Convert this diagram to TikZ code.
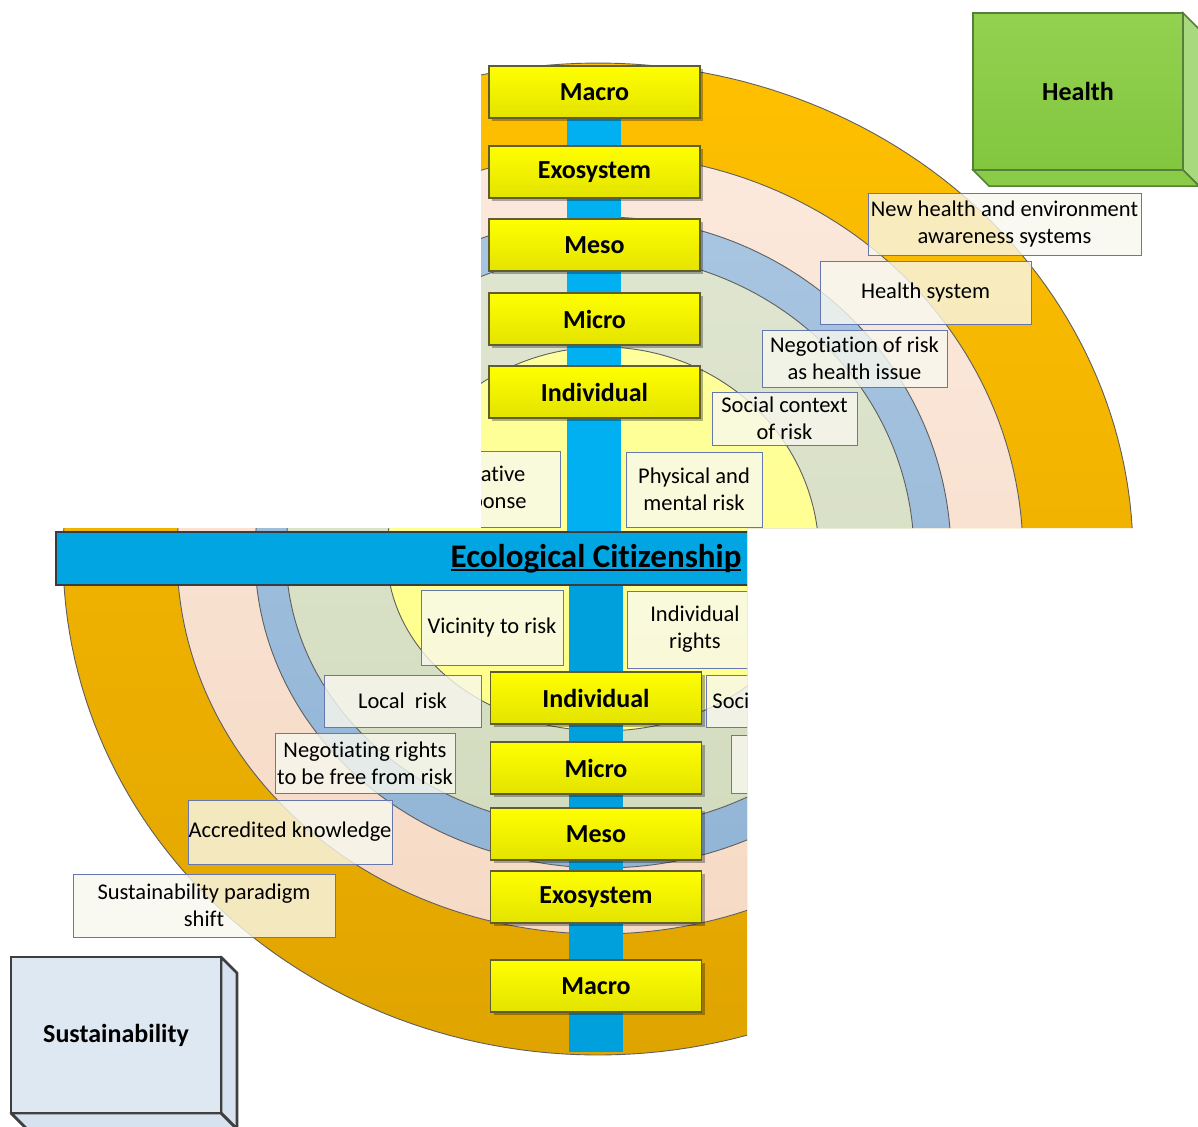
\documentclass[tikz,border=0pt]{standalone}
\usepackage{fontspec}
\setmainfont{Carlito}[Ligatures=NoCommon]
\usetikzlibrary{shadows}

% ring colours (top / bottom of each gradient)
\definecolor{ringOtop}{HTML}{FFC000}
\definecolor{ringObot}{HTML}{E0A400}
\definecolor{ringPtop}{HTML}{FBE9DD}
\definecolor{ringPbot}{HTML}{F6DAC5}
\definecolor{ringBtop}{HTML}{A8C5E1}
\definecolor{ringBbot}{HTML}{92B5D6}
\definecolor{ringGtop}{HTML}{DFE5CF}
\definecolor{ringGbot}{HTML}{D3DCBF}
\definecolor{ringYtop}{HTML}{FFFF9C}
\definecolor{ringYbot}{HTML}{FFFF8A}
\definecolor{ringline}{HTML}{5F5F5F}
% spine and cross bar
\definecolor{spineup}{HTML}{00B0F0}
\definecolor{spinedown}{HTML}{00A0DC}
\definecolor{barfill}{HTML}{00A5E1}
\definecolor{baredge}{HTML}{3C3C3C}
% layer boxes
\definecolor{lyrtop}{HTML}{FFFF00}
\definecolor{lyrbot}{HTML}{E3E300}
\definecolor{lyredge}{HTML}{5E5E30}
% note boxes
\definecolor{ntfill}{HTML}{F8F8EE}
\definecolor{ntedge}{HTML}{6577AE}
% side blocks
\definecolor{hfront}{HTML}{93D151}
\definecolor{hfrontbot}{HTML}{82C63E}
\definecolor{hside}{HTML}{A9D97F}
\definecolor{hbottom}{HTML}{8ACB48}
\definecolor{hedge}{HTML}{55803A}
\definecolor{sfront}{HTML}{DEE8F3}
\definecolor{sside}{HTML}{D6E2EF}
\definecolor{sedge}{HTML}{3F3F3F}

\newcommand\lyrfont{\bfseries\fontsize{13}{15.6}\selectfont}
\newcommand\ntfont{\fontsize{11.25}{13.5}\selectfont}
\newcommand\ulinetext[1]{\setbox0\hbox{#1}\rlap{\rule[-2pt]{\wd0}{1pt}}\box0}

\begin{document}
\begin{tikzpicture}[x=0.5pt,y=-0.5pt,
  lyr/.style={rectangle, draw=lyredge, line width=0.7pt, top color=lyrtop,
    bottom color=lyrbot, minimum width=105.5pt, minimum height=26pt,
    inner sep=0pt, font=\lyrfont,
    drop shadow={shadow xshift=1.6pt, shadow yshift=-1.6pt, opacity=0.3, fill=black}},
  nt/.style={rectangle, draw=ntedge, line width=0.5pt, fill=ntfill,
    fill opacity=0.8, text opacity=1, inner sep=0pt, align=center, font=\ntfont},
  spineU/.style={draw=spineup, line width=27pt},
  spineD/.style={draw=spinedown, line width=27pt},
  ecobar/.style={rectangle, fill=barfill, draw=baredge, line width=0.8pt,
    minimum width=540pt, minimum height=26.5pt, inner sep=0pt,
    font=\bfseries\fontsize{16.5}{19}\selectfont},
  blockface/.style={rectangle, inner sep=0pt, font=\lyrfont,
    minimum width=105pt, minimum height=78.5pt}
]
\useasboundingbox (0,0) rectangle (1198,1126);

\begin{scope}
  % visible area of the ring diagram
  \clip (481,0) -- (1198,0) -- (1198,528) -- (747,528) -- (747,1126)
        -- (0,1126) -- (0,528) -- (481,528) -- cycle;

  % concentric rings: centre x / x radius / upper y radius / lower y radius
  \foreach \cx/\rx/\ryu/\ryl/\ct/\cb in {
      598/535/492/500/ringOtop/ringObot,
      600/423/401/379/ringPtop/ringPbot,
      603/348/338/313/ringBtop/ringBbot,
      600/314/301/274/ringGtop/ringGbot,
      603/216/208/176/ringYtop/ringYbot}{
    \shade[top color=\ct, bottom color=\cb, draw=ringline, line width=0.45pt]
      plot[domain=0:180, samples=120, variable=\t]
        ({\cx+\rx*cos(\t)},{555+\ryl*sin(\t)})
      -- plot[domain=180:360, samples=120, variable=\t]
        ({\cx+\rx*cos(\t)},{555+\ryu*sin(\t)}) -- cycle;
  }

  % spine ends
  \coordinate (spinetop) at (594,80);
  \coordinate (spinemid) at (594,558);
  \coordinate (spinemid2) at (596,558);
  \coordinate (spineend) at (596,1052);
  \draw[spineU] (spinetop) -- (spinemid);
  \draw[spineD] (spinemid2) -- (spineend);

  % cross bar
  \node[ecobar] (eco) at (596,558.5) {\ulinetext{Ecological Citizenship}};

  % layer boxes, upper half
  \node[lyr] (mac1) at (594.5,92)  {Macro};
  \node[lyr] (exo1) at (594.5,172) {Exosystem};
  \node[lyr] (mes1) at (594.5,245) {Meso};
  \node[lyr] (mic1) at (594.5,319) {Micro};
  \node[lyr] (ind1) at (594.5,392) {Individual};
  % layer boxes, lower half
  \node[lyr] (ind2) at (596,698) {Individual};
  \node[lyr] (mic2) at (596,768) {Micro};
  \node[lyr] (mes2) at (596,834) {Meso};
  \node[lyr] (exo2) at (596,897) {Exosystem};
  \node[lyr] (mac2) at (596,986) {Macro};

  % notes, health side
  \node[nt, minimum width=136.5pt, minimum height=31pt] (nenv) at (1004.5,224)
    {New health and environment\\awareness systems};
  \node[nt, minimum width=105.5pt, minimum height=31.5pt] (nhs) at (925.5,292.5)
    {Health system};
  \node[nt, minimum width=92.5pt, minimum height=28.5pt] (nneg) at (854.5,358.5)
    {Negotiation of risk\\as health issue};
  \node[nt, minimum width=72.5pt, minimum height=26.5pt] (nsoc) at (784.5,418.5)
    {Social context\\of risk};
  \node[nt, minimum width=68pt, minimum height=37.5pt] (nphys) at (694,489.5)
    {Physical and\\mental risk};
  \node[nt, minimum width=75pt, minimum height=38pt] (nresp) at (485,489)
    {Negative\\response};

  % notes, sustainability side
  \node[nt, minimum width=71pt, minimum height=37.5pt] (nvic) at (492,627.5)
    {Vicinity to risk};
  \node[nt, minimum width=68pt, minimum height=38.5pt] (nrights) at (695,629.5)
    {Individual\\rights};
  \node[nt, minimum width=100pt, minimum height=26pt] (nsoc2) at (806,701)
    {Social context of risk};
  \node[nt, minimum width=92.5pt, minimum height=29pt] (nhidden) at (823.5,764) {};
  \node[nt, minimum width=78.5pt, minimum height=26pt] (nlocal) at (402.5,701)
    {Local\ \ risk};
  \node[nt, minimum width=90pt, minimum height=30pt] (nfree) at (365,763)
    {Negotiating rights\\to be free from risk};
  \node[nt, minimum width=102pt, minimum height=32pt] (nacc) at (290,832)
    {Accredited knowledge};
  \node[nt, minimum width=131pt, minimum height=31.5pt] (nshift) at (204,905.5)
    {Sustainability paradigm\\shift};
\end{scope}

% Health block
\filldraw[fill=hside, draw=hedge, line width=0.75pt]
  (1183,13) -- (1199,29) -- (1199,186) -- (1183,170) -- cycle;
\filldraw[fill=hbottom, draw=hedge, line width=0.75pt]
  (973,170) -- (1183,170) -- (1199,186) -- (989,186) -- cycle;
\node[blockface, top color=hfront, bottom color=hfrontbot, draw=hedge,
  line width=0.75pt] (health) at (1078,91.5) {Health};

% Sustainability block
\filldraw[fill=sside, draw=sedge, line width=1.4pt, line join=round]
  (221,957) -- (237,973) -- (237,1129) -- (221,1113) -- cycle;
\filldraw[fill=sside, draw=sedge, line width=1.4pt, line join=round]
  (11,1113) -- (221,1113) -- (237,1129) -- (27,1129) -- cycle;
\node[blockface, fill=sfront, draw=sedge, line width=1.4pt,
  minimum height=78pt] (sust) at (116,1035) {Sustainability};
\end{tikzpicture}
\end{document}
